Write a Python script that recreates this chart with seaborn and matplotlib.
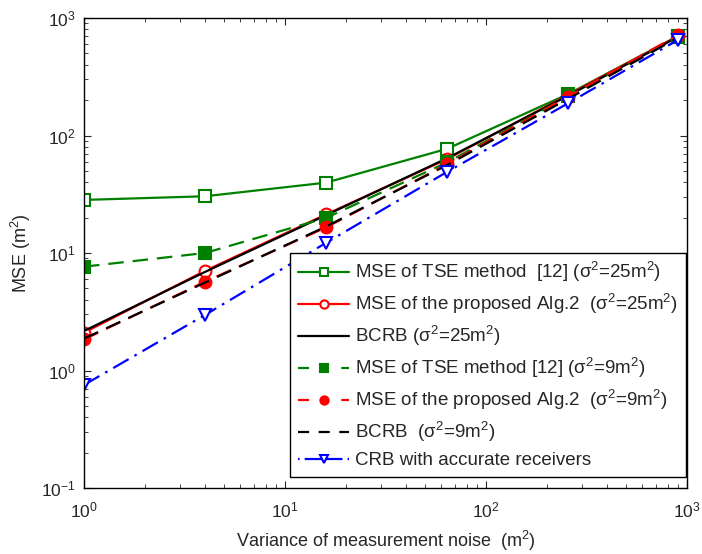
import numpy as np
import pandas as pd
import seaborn as sns
import matplotlib
matplotlib.use("Agg")
import matplotlib.pyplot as plt
from matplotlib.ticker import LogLocator, NullFormatter

# ---- data ----
noise_var = [1, 4, 16, 64, 256, 900]
tse_25 = [28.3, 30.4, 39.7, 77, 225, 700]
alg2_25 = [2.10, 7.05, 21.3, 63, 222, 700]
bcrb_25 = [2.17, 6.9, 21.0, 64, 218, 690]
tse_9 = [7.65, 10.0, 19.9, 59, 215, 690]
alg2_9 = [1.84, 5.7, 16.5, 57, 214, 715]
bcrb_9 = [1.87, 5.6, 16.8, 56, 205, 680]
crb = [0.753, 2.97, 12.2, 49, 188, 650]

labels = [
    "MSE of TSE method  [12] (σ$^2$=25m$^2$)",
    "MSE of the proposed Alg.2  (σ$^2$=25m$^2$)",
    "BCRB (σ$^2$=25m$^2$)",
    "MSE of TSE method [12] (σ$^2$=9m$^2$)",
    "MSE of the proposed Alg.2  (σ$^2$=9m$^2$)",
    "BCRB  (σ$^2$=9m$^2$)",
    "CRB with accurate receivers",
]

sns.set_style("ticks")
plt.rcParams["font.family"] = ["Liberation Sans", "DejaVu Sans"]
plt.rcParams["mathtext.fontset"] = "custom"
plt.rcParams["mathtext.rm"] = "Liberation Sans"
plt.rcParams["mathtext.it"] = "Liberation Sans:italic"
plt.rcParams["mathtext.default"] = "regular"

fig = plt.figure(figsize=(7.02, 5.54), dpi=100)
ax = fig.add_axes([84 / 702, 66 / 554, 603 / 702, 470 / 554])

green = "#008000"
lw = 1.6
ms = 8.5
dash = (0, (7, 4))
series = [
    (tse_25, dict(color=green, marker="s", markerfacecolor="white", markeredgecolor=green, linestyle="-")),
    (alg2_25, dict(color="red", marker="o", markerfacecolor="white", markeredgecolor="red", linestyle="-")),
    (bcrb_25, dict(color="black", linestyle="-")),
    (tse_9, dict(color=green, marker="s", markerfacecolor=green, markeredgecolor=green, linestyle=dash)),
    (alg2_9, dict(color="red", marker="o", markerfacecolor="red", markeredgecolor="red", linestyle=dash)),
    (bcrb_9, dict(color="black", linestyle=dash)),
    (crb, dict(color="blue", marker="v", markerfacecolor="white", markeredgecolor="blue", linestyle=(0, (8, 3, 1.2, 3)))),
]
for (vals, kw), lab in zip(series, labels):
    sns.lineplot(x=noise_var, y=vals, ax=ax, label=lab, linewidth=lw,
                 markersize=ms, markeredgewidth=1.5, sort=False, **kw)

ax.set_xscale("log")
ax.set_yscale("log")
ax.set_xlim(1, 1000)
ax.set_ylim(0.1, 1000)
ax.xaxis.set_major_locator(LogLocator(base=10, numticks=10))
ax.yaxis.set_major_locator(LogLocator(base=10, numticks=10))
ax.xaxis.set_minor_locator(LogLocator(base=10, subs=np.arange(2, 10), numticks=20))
ax.yaxis.set_minor_locator(LogLocator(base=10, subs=np.arange(2, 10), numticks=20))
ax.xaxis.set_minor_formatter(NullFormatter())
ax.yaxis.set_minor_formatter(NullFormatter())
ax.tick_params(which="both", direction="in", top=True, right=True, labelsize=12.5)
ax.tick_params(which="major", length=5, width=0.8)
ax.tick_params(which="minor", length=3, width=0.6)
ax.tick_params(axis="x", which="major", pad=9)
ax.tick_params(axis="y", which="major", pad=6)
for s in ax.spines.values():
    s.set_visible(True)
    s.set_linewidth(1.0)
    s.set_color("black")

ax.set_xlabel("Variance of measurement noise  (m$^2$)", fontsize=13, labelpad=6)
ax.set_ylabel("MSE (m$^2$)", fontsize=13, labelpad=6)

leg = ax.legend(loc="lower right", bbox_to_anchor=(0.998, 0.024), fontsize=13.5,
                frameon=True, fancybox=False, edgecolor="black", framealpha=1,
                handlelength=2.75, handletextpad=0.32, labelspacing=0.42,
                borderpad=0.4, borderaxespad=0.0, markerscale=0.7)
leg.get_frame().set_linewidth(1.0)
handles = leg.get_lines()
for h in handles[3:5]:
    h.set_linestyle((0, (5, 14.5)))
handles[5].set_linestyle((0, (5, 4.3)))
handles[6].set_linestyle((0, (0.7, 2.3, 17, 2.3)))

fig.savefig("out.png", dpi=100)
